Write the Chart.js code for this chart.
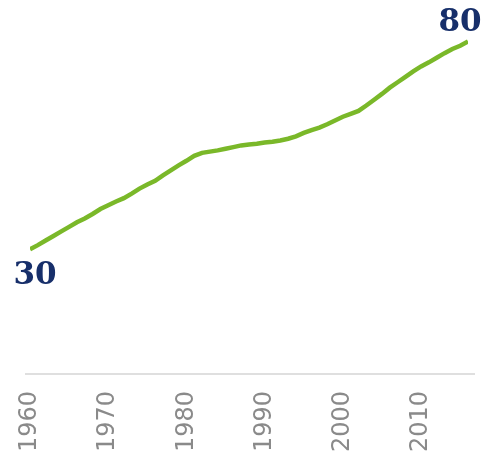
<!DOCTYPE html>
<html>
<head>
<meta charset="utf-8">
<script src="https://cdn.jsdelivr.net/npm/chart.js@4/dist/chart.umd.min.js"></script>
<style>
  html, body { margin: 0; padding: 0; background: #fff; }
  #wrap { width: 489px; height: 465px; position: relative; }
</style>
</head>
<body>
<div id="wrap"><canvas id="trendChart"></canvas></div>
<script>
// years 1960..2016
var years = [
    1960, 1961, 1962, 1963, 1964, 1965, 1966, 1967, 1968, 1969,
    1970, 1971, 1972, 1973, 1974, 1975, 1976, 1977, 1978, 1979,
    1980, 1981, 1982, 1983, 1984, 1985, 1986, 1987, 1988, 1989,
    1990, 1991, 1992, 1993, 1994, 1995, 1996, 1997, 1998, 1999,
    2000, 2001, 2002, 2003, 2004, 2005, 2006, 2007, 2008, 2009,
    2010, 2011, 2012, 2013, 2014, 2015, 2016
];
var values = [
    30.0, 31.0, 32.1, 33.2, 34.3, 35.4, 36.5, 37.4, 38.5, 39.7,
    40.6, 41.5, 42.3, 43.4, 44.6, 45.6, 46.5, 47.8, 49.0, 50.2,
    51.3, 52.5, 53.2, 53.5, 53.8, 54.2, 54.6, 55.0, 55.2, 55.4,
    55.7, 55.9, 56.2, 56.6, 57.2, 58.0, 58.7, 59.3, 60.1, 61.0,
    61.9, 62.6, 63.3, 64.6, 66.0, 67.4, 68.9, 70.2, 71.5, 72.8,
    74.0, 75.0, 76.1, 77.2, 78.2, 79.0, 80.0
];
var tickYears = [1960, 1970, 1980, 1990, 2000, 2010];
var endLabels = ['30', '80'];

// baseline a bit wider than the plot, plus the first/last value labels
var endLabelPlugin = {
    id: 'endLabels',
    beforeDatasetsDraw: function (chart) {
        var ctx = chart.ctx, area = chart.chartArea;
        ctx.save();
        ctx.strokeStyle = '#d4d4d4';
        ctx.lineWidth = 1.5;
        ctx.beginPath();
        ctx.moveTo(area.left - 5, area.bottom);
        ctx.lineTo(area.right + 7, area.bottom);
        ctx.stroke();
        ctx.restore();
    },
    afterDatasetsDraw: function (chart) {
        var ctx = chart.ctx;
        var pts = chart.getDatasetMeta(0).data;
        var first = pts[0], last = pts[pts.length - 1];
        ctx.save();
        ctx.fillStyle = '#172f6a';
        ctx.font = 'bold 31px "DejaVu Serif", serif';
        ctx.textBaseline = 'middle';
        ctx.textAlign = 'center';
        ctx.fillText(endLabels[0], first.x + 5, first.y + 27);
        ctx.fillText(endLabels[1], last.x - 8, last.y - 19);
        ctx.restore();
    }
};

var points = years.map(function (y, i) { return { x: y, y: values[i] }; });

var trendChart = new Chart(document.getElementById('trendChart'), {
    type: 'line',
    data: {
        datasets: [{
            data: points,
            borderColor: '#7ab829',
            borderWidth: 4.5,
            pointRadius: 0,
            tension: 0,
            fill: false
        }]
    },
    options: {
        responsive: true,
        maintainAspectRatio: false,
        animation: false,
        layout: { padding: { left: 30, right: 21, top: 0, bottom: -4 } },
        plugins: {
            legend: { display: false },
            tooltip: { enabled: false }
        },
        scales: {
            x: {
                type: 'linear',
                min: years[0],
                max: years[years.length - 1],
                grid: { display: false, drawTicks: false },
                border: { display: false },
                afterBuildTicks: function (axis) {
                    axis.ticks = tickYears.map(function (y) { return { value: y }; });
                },
                ticks: {
                    minRotation: 90,
                    maxRotation: 90,
                    padding: 17,
                    color: '#8a8a8a',
                    font: { family: '"DejaVu Sans", sans-serif', size: 24 },
                    callback: function (val) { return String(val); }
                }
            },
            y: {
                display: false,
                min: 0,
                max: 90
            }
        }
    },
    plugins: [endLabelPlugin]
});
</script>
</body>
</html>
